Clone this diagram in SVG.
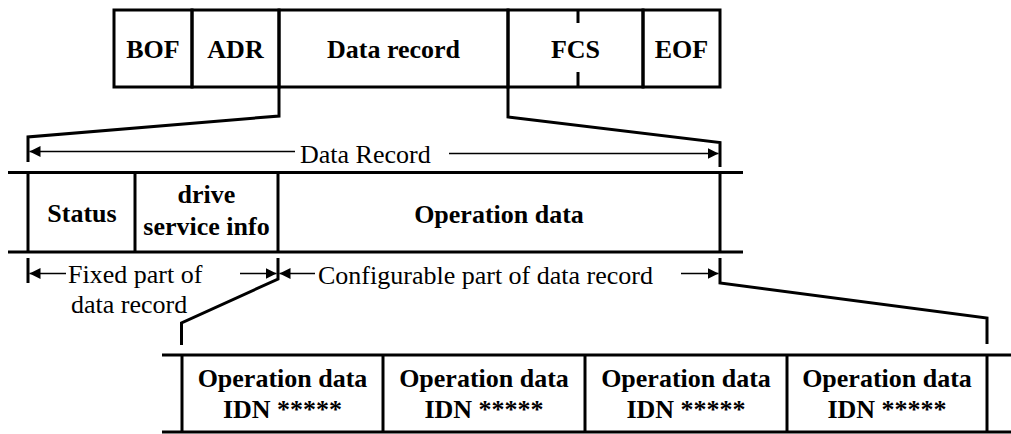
<svg xmlns="http://www.w3.org/2000/svg" width="1011" height="434" viewBox="0 0 1011 434">
  <style>
    .box { fill: none; stroke: #000; stroke-width: 3; }
    .rule { stroke: #000; stroke-width: 3; fill: none; }
    .lead { stroke: #000; stroke-width: 3; fill: none; stroke-linejoin: miter; }
    .dim { stroke: #000; stroke-width: 1.6; fill: none; }
    .b { font-weight: bold; font-size: 26px; fill: #000; text-anchor: middle; }
    .r { font-size: 26px; fill: #000; }
  </style>
  <defs>
    <marker id="ah" markerUnits="userSpaceOnUse" markerWidth="12" markerHeight="12" viewBox="0 0 12 12" refX="11" refY="6" orient="auto">
      <path d="M0,0.5 L11,6 L0,11.5 Z" fill="#000"/>
    </marker>
  </defs>
  <rect width="1011" height="434" fill="#fff"/>

  <g font-family="Liberation Serif, Times New Roman, Times, DejaVu Serif, serif">
  <!-- telegram frame -->
  <g id="frame-bof">
    <rect class="box" x="114" y="10" width="78" height="77"/>
    <text class="b" x="153" y="58">BOF</text>
  </g>
  <g id="frame-adr">
    <rect class="box" x="192" y="10" width="87" height="77"/>
    <text class="b" x="235.5" y="58">ADR</text>
  </g>
  <g id="frame-data">
    <rect class="box" x="279" y="10" width="229" height="77"/>
    <text class="b" x="393.5" y="58">Data record</text>
  </g>
  <g id="frame-fcs">
    <rect class="box" x="508" y="10" width="135" height="77"/>
    <line class="rule" x1="578" y1="10" x2="578" y2="23"/>
    <line class="rule" x1="578" y1="72" x2="578" y2="87"/>
    <text class="b" x="575.5" y="58">FCS</text>
  </g>
  <g id="frame-eof">
    <rect class="box" x="643" y="10" width="77" height="77"/>
    <text class="b" x="681.5" y="58">EOF</text>
  </g>

  <!-- data record layout -->
  <g id="record">
    <line class="rule" x1="8" y1="172.5" x2="743" y2="172.5"/>
    <line class="rule" x1="8" y1="252" x2="743" y2="252"/>
    <line class="rule" x1="720" y1="172.5" x2="720" y2="252"/>
  </g>
  <g id="record-status">
    <line class="rule" x1="28" y1="172.5" x2="28" y2="252"/>
    <text class="b" x="82" y="222">Status</text>
  </g>
  <g id="record-service">
    <line class="rule" x1="135" y1="172.5" x2="135" y2="252"/>
    <text class="b" x="206.5" y="203">drive</text>
    <text class="b" x="206.5" y="235">service info</text>
  </g>
  <g id="record-operation">
    <line class="rule" x1="278" y1="172.5" x2="278" y2="252"/>
    <text class="b" x="499" y="223">Operation data</text>
  </g>

  <!-- operation data entries -->
  <g id="entries">
    <line class="rule" x1="162" y1="355" x2="1011" y2="355"/>
    <line class="rule" x1="162" y1="432" x2="1011" y2="432"/>
  </g>
  <g id="entry-1">
    <line class="rule" x1="182" y1="355" x2="182" y2="432"/>
    <text class="b" x="282.5" y="387">Operation data</text>
    <text class="b" x="282.5" y="418">IDN *****</text>
  </g>
  <g id="entry-2">
    <line class="rule" x1="383" y1="355" x2="383" y2="432"/>
    <text class="b" x="484" y="387">Operation data</text>
    <text class="b" x="484" y="418">IDN *****</text>
  </g>
  <g id="entry-3">
    <line class="rule" x1="585" y1="355" x2="585" y2="432"/>
    <text class="b" x="686" y="387">Operation data</text>
    <text class="b" x="686" y="418">IDN *****</text>
  </g>
  <g id="entry-4">
    <line class="rule" x1="787" y1="355" x2="787" y2="432"/>
    <line class="rule" x1="987" y1="355" x2="987" y2="432"/>
    <text class="b" x="887" y="387">Operation data</text>
    <text class="b" x="887" y="418">IDN *****</text>
  </g>

  <!-- expansion leaders and dimension arrows -->
  <g id="connectors">
    <polyline class="lead" points="279,87 279,116 28,137 28,162"/>
    <polyline class="lead" points="508,87 508,117 720,142.5 720,167"/>
    <polyline class="lead" points="28,258 28,283"/>
    <polyline class="lead" points="278,258 278,279 181.5,323 181.5,345"/>
    <polyline class="lead" points="720,258 720,283 987,318 987,344"/>

    <line class="dim" x1="295" y1="151.5" x2="29.5" y2="151.5" marker-end="url(#ah)"/>
    <line class="dim" x1="449" y1="153.5" x2="718.5" y2="153.5" marker-end="url(#ah)"/>
    <line class="dim" x1="66" y1="273.5" x2="29.5" y2="273.5" marker-end="url(#ah)"/>
    <line class="dim" x1="240" y1="273.5" x2="276.5" y2="273.5" marker-end="url(#ah)"/>
    <line class="dim" x1="315" y1="273.5" x2="279.5" y2="273.5" marker-end="url(#ah)"/>
    <line class="dim" x1="681" y1="273.5" x2="718.5" y2="273.5" marker-end="url(#ah)"/>
  </g>

  <g id="labels">
    <text class="r" x="300" y="163">Data Record</text>
    <text class="r" x="68" y="283">Fixed part of</text>
    <text class="r" x="71" y="313">data record</text>
    <text class="r" x="318" y="284">Configurable part of data record</text>
  </g>
  </g>
</svg>
